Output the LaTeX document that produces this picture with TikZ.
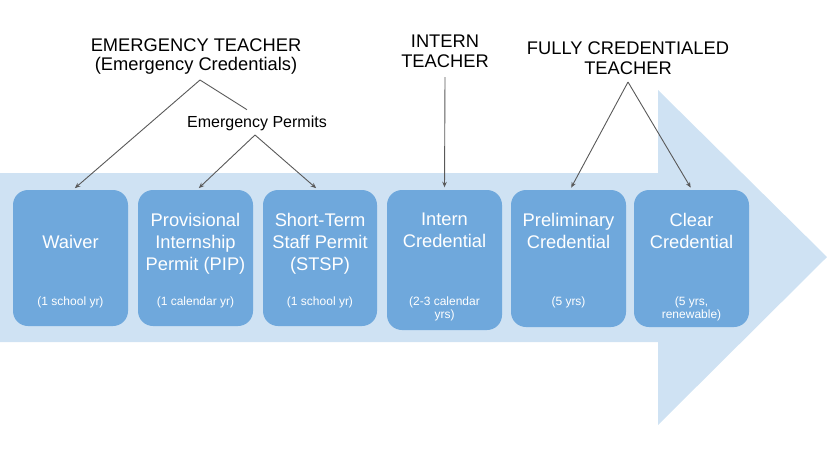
\documentclass[tikz,border=0pt]{standalone}
\usepackage{fontspec}
\setmainfont{Liberation Sans}
\usetikzlibrary{arrows.meta,calc}
\definecolor{boxblue}{HTML}{6FA8DC}
\definecolor{arrowblue}{HTML}{CFE2F3}
\definecolor{linegray}{HTML}{595959}
\tikzset{
  stage/.style={fill=boxblue, draw=none, rounded corners=15pt, minimum width=115pt, minimum height=136pt, inner sep=0pt},
  title/.style={text=white, font=\fontsize{18.3}{22}\selectfont, align=center, inner sep=0pt, anchor=north},
  dur/.style={text=white, font=\fontsize{12}{13.5}\selectfont, align=center, inner sep=0pt, anchor=north},
  toplabel/.style={text=black, font=\fontsize{18.3}{20.5}\selectfont, align=center, inner xsep=0pt, anchor=south},
  conn/.style={draw=linegray, line width=0.9pt, -{Stealth[length=5.5pt,width=4.5pt]}, shorten >=2.5pt},
  plainline/.style={draw=linegray, line width=0.9pt},
}
\begin{document}
\begin{tikzpicture}[x=1pt,y=-1pt]
\useasboundingbox (0,0) rectangle (827,459);
% big background arrow
\fill[arrowblue] (0,173) -- (658,173) -- (658,90) -- (827,257) -- (658,425) -- (658,342) -- (0,342) -- cycle;

% stage boxes
\node[stage] (waiver) at (70.5,258) {};
\node[stage] (pip) at (195.5,258) {};
\node[stage, minimum width=114pt] (stsp) at (320,258) {};
\node[stage, minimum height=140pt] (intern) at (444.5,260) {};
\node[stage, minimum height=137pt] (prelim) at (568.5,258.5) {};
\node[stage, minimum height=137pt] (clear) at (691.5,258.5) {};

% titles
\node[title] (waiverT) at (70.5,234.9) {Waiver};
\node[title] (pipT) at (195.5,212.9) {Provisional\\Internship\\Permit (PIP)};
\node[title] (stspT) at (320,212.9) {Short-Term\\Staff Permit\\(STSP)};
\node[title] (internT) at (444.5,212.9) {Intern\\Credential};
\node[title] (prelimT) at (568.5,212.9) {Preliminary\\Credential};
\node[title] (clearT) at (691.5,212.9) {Clear\\Credential};

% durations
\node[dur] (waiverD) at (70.5,296.4) {(1 school yr)};
\node[dur] (pipD) at (195.5,296.4) {(1 calendar yr)};
\node[dur] (stspD) at (320,296.4) {(1 school yr)};
\node[dur] (internD) at (444.5,296.4) {(2-3 calendar\\yrs)};
\node[dur] (prelimD) at (568.5,296.4) {(5 yrs)};
\node[dur] (clearD) at (691.5,296.4) {(5 yrs,\\renewable)};

% top labels
\node[toplabel, font=\fontsize{18.3}{19}\selectfont, inner ysep=6pt] (et) at (196,80) {EMERGENCY TEACHER\\(Emergency Credentials)};
\node[toplabel, font=\fontsize{16}{18}\selectfont, inner ysep=3.5pt] (ep) at (257,135) {Emergency Permits};
\node[toplabel, inner ysep=9pt] (it) at (445,77) {INTERN\\TEACHER};
\node[toplabel, inner ysep=7pt] (fc) at (628,82) {FULLY CREDENTIALED\\TEACHER};

% connectors
\draw[conn] ([xshift=4pt]et.south) -- ([xshift=2.5pt]waiver.north);
\draw[plainline] ([xshift=4pt]et.south) -- ([xshift=-10pt,yshift=3pt]ep.north);
\draw[conn] ([xshift=-2pt]ep.south) -- ([xshift=1.5pt]pip.north);
\draw[conn] ([xshift=-2pt]ep.south) -- ([xshift=-2pt]stsp.north);
\draw[conn] (it.south) -- (intern.north);
\draw[conn] (fc.south) -- ([xshift=1.5pt]prelim.north);
\draw[conn] (fc.south) -- ([xshift=0.5pt]clear.north);
\end{tikzpicture}
\end{document}
